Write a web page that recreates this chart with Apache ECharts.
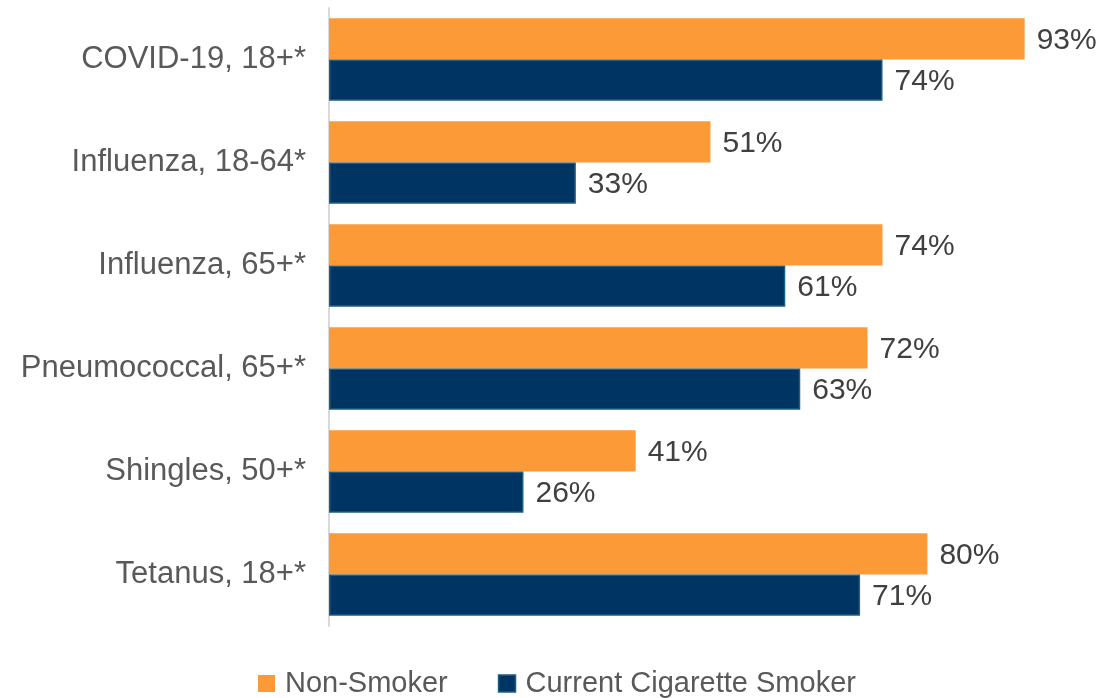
<!DOCTYPE html>
<html>
<head>
<meta charset="utf-8">
<script src="https://cdn.jsdelivr.net/npm/echarts@6/dist/echarts.min.js"></script>
<style>
  html, body { margin: 0; padding: 0; background: #fff; }
  #chart { width: 1107px; height: 698px; }
</style>
</head>
<body>
<div id="chart"></div>
<script>
// Vaccination coverage by smoking status (percent)
const categories = [
  'COVID-19, 18+*',
  'Influenza, 18-64*',
  'Influenza, 65+*',
  'Pneumococcal, 65+*',
  'Shingles, 50+*',
  'Tetanus, 18+*'
];
const nonSmoker = [93, 51, 74, 72, 41, 80];
const currentSmoker = [74, 33, 61, 63, 26, 71];

const FONT = '"Liberation Sans", Arial, sans-serif';

const chart = echarts.init(document.getElementById('chart'));
chart.setOption({
  animation: false,
  textStyle: { fontFamily: FONT },
  grid: { left: 329, right: 30, top: 8, bottom: 72 },
  legend: {
    top: 664,
    left: 253,
    icon: 'rect',
    itemWidth: 17,
    itemHeight: 17,
    itemGap: 50,
    textStyle: { fontSize: 29, color: '#595959', fontFamily: FONT, padding: [0, 0, 0, 5] },
    data: [
      { name: 'Non-Smoker' },
      { name: 'Current Cigarette Smoker', itemStyle: { borderColor: '#1d5f84', borderWidth: 1.5 } }
    ]
  },
  xAxis: {
    type: 'value',
    min: 0,
    max: 100,
    show: false
  },
  yAxis: {
    type: 'category',
    inverse: true,
    data: categories,
    axisLine: { show: true, lineStyle: { color: '#d9d9d9', width: 2 } },
    axisTick: { show: false },
    axisLabel: { fontSize: 31, color: '#595959', margin: 23, fontFamily: FONT, padding: [4, 0, 0, 0] }
  },
  series: [
    {
      name: 'Non-Smoker',
      type: 'bar',
      data: nonSmoker,
      barGap: '0%',
      barCategoryGap: '20%',
      itemStyle: { color: '#fd9a38' },
      label: {
        show: true, position: 'right', distance: 12, offset: [0, 2],
        formatter: '{c}%', fontSize: 30, color: '#404040', fontFamily: FONT
      }
    },
    {
      name: 'Current Cigarette Smoker',
      type: 'bar',
      data: currentSmoker,
      itemStyle: { color: '#003462', borderColor: '#1d5f84', borderWidth: 1.5 },
      label: {
        show: true, position: 'right', distance: 12, offset: [0, 2],
        formatter: '{c}%', fontSize: 30, color: '#404040', fontFamily: FONT
      }
    }
  ]
});
</script>
</body>
</html>
